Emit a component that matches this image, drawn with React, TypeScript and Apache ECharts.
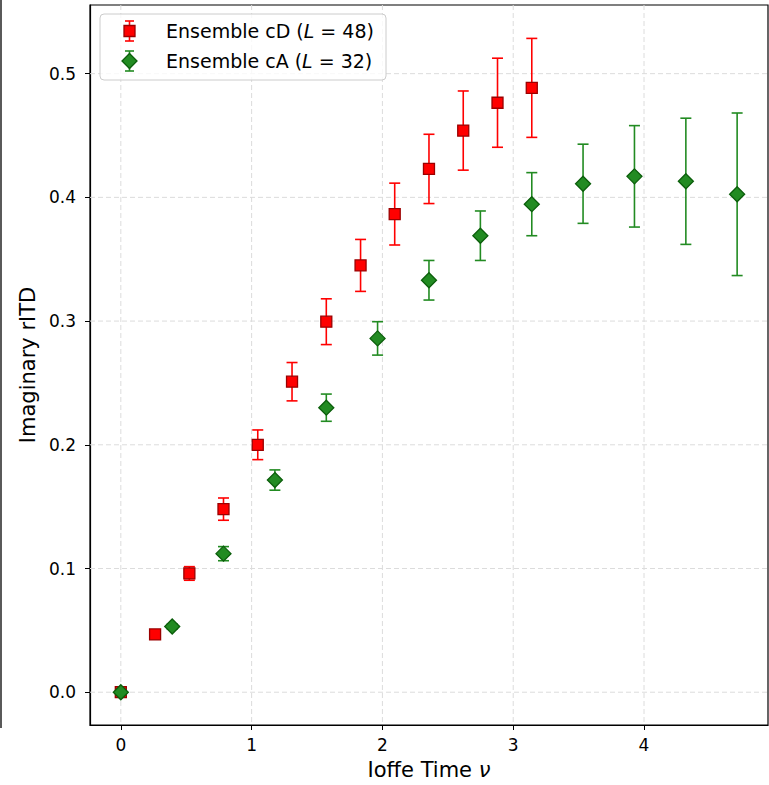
import React, { useEffect, useRef } from "react";
import * as echarts from "echarts";

// Ioffe time values for each ensemble
const nuCD = [0, 0.262, 0.524, 0.785, 1.047, 1.309, 1.571, 1.833, 2.094, 2.356, 2.618, 2.88, 3.142];
const nuCA = [0, 0.393, 0.785, 1.178, 1.571, 1.963, 2.356, 2.749, 3.142, 3.534, 3.927, 4.32, 4.712];

// Imaginary part of the reduced Ioffe-time distribution and its uncertainty
const imCD = [0, 0.0467, 0.096, 0.148, 0.2, 0.251, 0.2995, 0.345, 0.3865, 0.423, 0.454, 0.4765, 0.4885];
const errCD = [0.0015, 0.002, 0.0055, 0.009, 0.012, 0.0155, 0.0185, 0.021, 0.025, 0.028, 0.032, 0.036, 0.04];
const imCA = [0, 0.0531, 0.112, 0.1715, 0.23, 0.286, 0.333, 0.369, 0.3945, 0.411, 0.417, 0.413, 0.4025];
const errCA = [0.0015, 0.002, 0.0057, 0.0082, 0.011, 0.0135, 0.016, 0.02, 0.0255, 0.032, 0.041, 0.051, 0.0657];

const xTicks = [0, 1, 2, 3, 4];
const yTicks = [0, 0.1, 0.2, 0.3, 0.4, 0.5];

const X_MIN = -0.2356;
const X_MAX = 4.948;
const Y_MIN = -0.0265;
const Y_MAX = 0.5555;

const FONT = "DejaVu Sans";

const errorBarSeries = (name: string, xs: number[], ys: number[], es: number[], color: string) => ({
  type: "custom",
  name,
  data: xs.map((x, i) => [x, ys[i] - es[i], ys[i] + es[i]]),
  encode: { x: 0, y: [1, 2] },
  silent: true,
  renderItem: (params: any, api: any) => {
    const lo = api.coord([api.value(0), api.value(1)]);
    const hi = api.coord([api.value(0), api.value(2)]);
    const cap = 5.5;
    const style = { stroke: color, lineWidth: 1.6 };
    return {
      type: "group",
      children: [
        { type: "line", shape: { x1: lo[0], y1: lo[1], x2: hi[0], y2: hi[1] }, style },
        { type: "line", shape: { x1: lo[0] - cap, y1: lo[1], x2: lo[0] + cap, y2: lo[1] }, style },
        { type: "line", shape: { x1: hi[0] - cap, y1: hi[1], x2: hi[0] + cap, y2: hi[1] }, style },
      ],
    };
  },
});

const gridLineSeries = (values: number[], vertical: boolean) => ({
  type: "custom",
  silent: true,
  data: values.map((v) => (vertical ? [v, 0] : [0, v])),
  renderItem: (params: any, api: any) => {
    const cs = params.coordSys;
    const p = api.coord([api.value(0), api.value(1)]);
    const shape = vertical
      ? { x1: p[0], y1: cs.y, x2: p[0], y2: cs.y + cs.height }
      : { x1: cs.x, y1: p[1], x2: cs.x + cs.width, y2: p[1] };
    return {
      type: "line",
      shape,
      style: { stroke: "#dcdcdc", lineWidth: 1, lineDash: [5, 3] },
    };
  },
});

// One legend entry: error-bar glyph, marker and label
const legendRow = (y: number, kind: "cD" | "cA") => {
  const color = kind === "cD" ? "#ff0000" : "#228b22";
  const style = { stroke: color, lineWidth: 1.6 };
  const marker =
    kind === "cD"
      ? { type: "rect", z: 12, shape: { x: 124, y: y - 5.5, width: 11, height: 11 }, style: { fill: "#ff0000", stroke: "#9b0000", lineWidth: 1.3 } }
      : { type: "polygon", z: 12, shape: { points: [[129.5, y - 7.5], [137, y], [129.5, y + 7.5], [122, y]] }, style: { fill: "#228b22", stroke: "#0b5e0b", lineWidth: 1.3 } };
  return [
    { type: "line", z: 11, shape: { x1: 129.5, y1: y - 10, x2: 129.5, y2: y + 10 }, style },
    { type: "line", z: 11, shape: { x1: 125, y1: y - 10, x2: 134, y2: y - 10 }, style },
    { type: "line", z: 11, shape: { x1: 125, y1: y + 10, x2: 134, y2: y + 10 }, style },
    marker,
    {
      type: "text",
      z: 12,
      x: 166,
      y,
      style: {
        text: kind === "cD" ? "{n|Ensemble cD (}{i|L}{n| = 48)}" : "{n|Ensemble cA (}{i|L}{n| = 32)}",
        verticalAlign: "middle",
        fill: "#000",
        rich: {
          n: { fontFamily: FONT, fontSize: 19, fill: "#000" },
          i: { fontFamily: FONT, fontSize: 19, fontStyle: "italic", fill: "#000" },
        },
      },
    },
  ];
};

export default function App() {
  const ref = useRef<HTMLDivElement>(null);

  useEffect(() => {
    if (!ref.current) return;
    const chart = echarts.init(ref.current, null, { renderer: "svg" });

    chart.setOption({
      animation: false,
      textStyle: { fontFamily: FONT },
      grid: {
        left: 90,
        right: 1,
        top: 5,
        bottom: 57,
        show: true,
        borderColor: "#000",
        borderWidth: 1.2,
        backgroundColor: "transparent",
      },
      xAxis: {
        type: "value",
        min: X_MIN,
        max: X_MAX,
        name: "Ioffe Time {i|ν}",
        nameLocation: "middle",
        nameGap: 34,
        nameTextStyle: {
          fontFamily: FONT,
          fontSize: 21,
          color: "#000",
          rich: { i: { fontFamily: FONT, fontSize: 21, fontStyle: "italic", color: "#000" } },
        },
        axisLine: { show: true, onZero: false, lineStyle: { color: "#000", width: 1.2 } },
        axisTick: { show: true, length: 5, customValues: xTicks, lineStyle: { color: "#000", width: 1 } },
        axisLabel: {
          customValues: xTicks,
          margin: 11,
          fontSize: 17,
          color: "#000",
          fontFamily: FONT,
          formatter: (v: number) => String(Math.round(v)),
        },
        splitLine: { show: false },
      },
      yAxis: {
        type: "value",
        min: Y_MIN,
        max: Y_MAX,
        name: "Imaginary rITD",
        nameLocation: "middle",
        nameGap: 50,
        nameTextStyle: { fontFamily: FONT, fontSize: 21, color: "#000" },
        axisLine: { show: true, onZero: false, lineStyle: { color: "#000", width: 1.2 } },
        axisTick: { show: true, length: 5, customValues: yTicks, lineStyle: { color: "#000", width: 1 } },
        axisLabel: {
          customValues: yTicks,
          margin: 14,
          fontSize: 17,
          color: "#000",
          fontFamily: FONT,
          formatter: (v: number) => v.toFixed(1),
        },
        splitLine: { show: false },
      },
      series: [
        gridLineSeries(xTicks, true),
        gridLineSeries(yTicks, false),
        errorBarSeries("cD errors", nuCD, imCD, errCD, "#ff0000"),
        {
          type: "scatter",
          name: "Ensemble cD",
          data: nuCD.map((x, i) => [x, imCD[i]]),
          symbol: "rect",
          symbolSize: 11,
          itemStyle: { color: "#ff0000", borderColor: "#9b0000", borderWidth: 1.3, opacity: 1 },
        },
        errorBarSeries("cA errors", nuCA, imCA, errCA, "#228b22"),
        {
          type: "scatter",
          name: "Ensemble cA",
          data: nuCA.map((x, i) => [x, imCA[i]]),
          symbol: "diamond",
          symbolSize: 15,
          itemStyle: { color: "#228b22", borderColor: "#0b5e0b", borderWidth: 1.3, opacity: 1 },
        },
      ],
      graphic: [
        {
          type: "line",
          shape: { x1: 1, y1: 0, x2: 1, y2: 728 },
          style: { stroke: "#000", lineWidth: 1.3 },
        },
        {
          type: "rect",
          z: 10,
          shape: { x: 100, y: 14, width: 286, height: 66, r: 4 },
          style: { fill: "rgba(255,255,255,0.8)", stroke: "#cccccc", lineWidth: 1 },
        },
        ...legendRow(31, "cD"),
        ...legendRow(61, "cA"),
      ],
    });

    return () => chart.dispose();
  }, []);

  return (
    <div
      ref={ref}
      style={{ position: "absolute", left: 0, top: 0, width: 769, height: 785 }}
    />
  );
}
